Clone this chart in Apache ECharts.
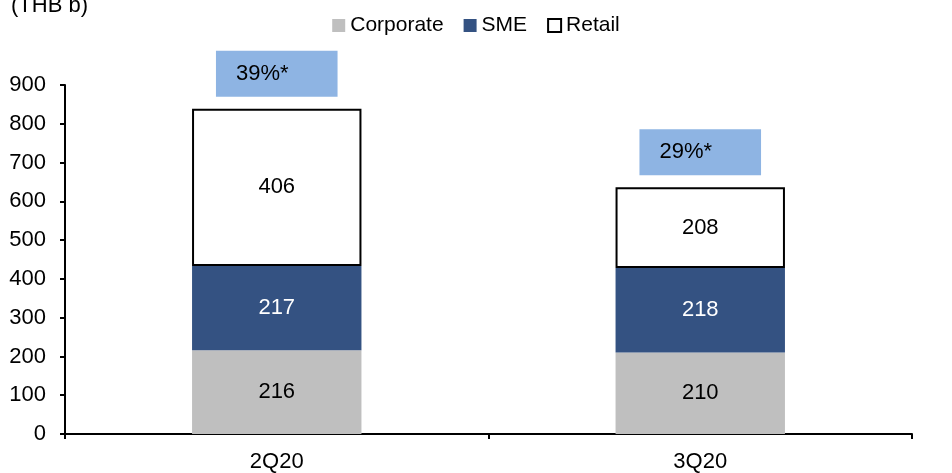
<!DOCTYPE html>
<html>
<head>
<meta charset="utf-8">
<script src="https://cdn.jsdelivr.net/npm/echarts@6/dist/echarts.min.js"></script>
<style>
  html, body { margin: 0; padding: 0; background: #fff; }
  #chart { width: 952px; height: 473px; }
</style>
</head>
<body>
<div id="chart"></div>
<script>
const categories = ['2Q20', '3Q20'];
const corporate = [216, 210];
const sme = [217, 218];
const retail = [406, 208];
const notes = ['39%*', '29%*'];

const myChart = echarts.init(document.getElementById('chart'));
const font = 'Arial, "Liberation Sans", sans-serif';

const innerLabel = (color) => ({
  show: true,
  position: 'inside',
  color: color,
  fontFamily: font,
  fontSize: 22
});

const option = {
  animation: false,
  title: {
    text: '(THB b)',
    left: 6,
    top: -10,
    textStyle: { fontFamily: font, fontSize: 22, fontWeight: 'normal', color: '#000' }
  },
  legend: {
    top: 10,
    left: 'center',
    icon: 'rect',
    itemWidth: 13,
    itemHeight: 13,
    itemGap: 20,
    data: ['Corporate', 'SME', 'Retail'],
    textStyle: { fontFamily: font, fontSize: 21, color: '#000' }
  },
  grid: { left: 65, right: 40, top: 85, bottom: 39 },
  xAxis: {
    type: 'category',
    data: categories,
    axisLine: { lineStyle: { color: '#000', width: 2 } },
    axisTick: { show: true, length: 5, lineStyle: { color: '#000', width: 2 } },
    axisLabel: { margin: 17, color: '#000', fontFamily: font, fontSize: 22 }
  },
  yAxis: {
    type: 'value',
    min: 0,
    max: 900,
    interval: 100,
    splitLine: { show: false },
    axisLine: { show: true, lineStyle: { color: '#000', width: 2 } },
    axisTick: { show: true, length: 5, lineStyle: { color: '#000', width: 2 } },
    axisLabel: { margin: 19, color: '#000', fontFamily: font, fontSize: 22 }
  },
  series: [
    {
      name: 'Corporate',
      type: 'bar',
      stack: 'total',
      barWidth: '40%',
      data: corporate,
      itemStyle: { color: '#BFBFBF' },
      label: innerLabel('#000')
    },
    {
      name: 'SME',
      type: 'bar',
      stack: 'total',
      data: sme,
      itemStyle: { color: '#345282' },
      label: innerLabel('#fff')
    },
    {
      name: 'Retail',
      type: 'bar',
      stack: 'total',
      data: retail,
      itemStyle: { color: '#fff', borderColor: '#000', borderWidth: 2 },
      label: innerLabel('#000')
    },
    {
      name: 'note',
      type: 'bar',
      stack: 'total',
      data: notes.map(() => 0),
      itemStyle: { color: 'transparent' },
      label: {
        show: true,
        position: 'top',
        distance: 12,
        formatter: (p) => notes[p.dataIndex],
        backgroundColor: '#8EB4E3',
        padding: [12, 49, 12, 20],
        color: '#000',
        fontFamily: font,
        fontSize: 22
      }
    }
  ]
};

myChart.setOption(option);
</script>
</body>
</html>
